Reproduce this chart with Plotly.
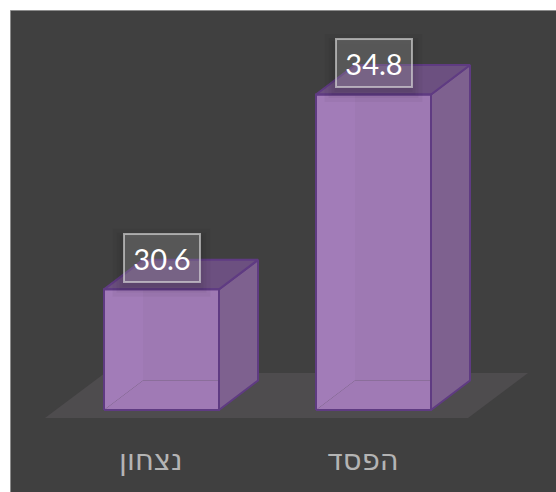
import plotly.graph_objects as go

categories = ["נצחון", "הפסד"]
values = [30.6, 34.8]
value_labels = ["30.6", "34.8"]

W, H = 556, 492
PX_PER_X = 212.0
PX_PER_Y = 46.4
BASE = 28.0
AXIS_PX = 440
X_ZERO_PX = 161.5
BASE_PX = 410
BAR_W = 115 / PX_PER_X
DX = 39 / PX_PER_X
DY = 29.5 / PX_PER_Y

x_range = [-X_ZERO_PX / PX_PER_X, (W - X_ZERO_PX) / PX_PER_X]
y_low = BASE - (AXIS_PX - BASE_PX) / PX_PER_Y
y_high = y_low + AXIS_PX / PX_PER_Y

EDGE = "#5F3B82"
xs = list(range(len(values)))


def poly(px, py, fill, line=None, lw=0):
    return go.Scatter(x=px, y=py, mode="lines", fill="toself", fillcolor=fill,
                      line=dict(color=line or "rgba(0,0,0,0)", width=lw),
                      hoverinfo="skip", showlegend=False)


fig = go.Figure()

# floor
fx0 = (45 - X_ZERO_PX) / PX_PER_X
fx1 = (468 - X_ZERO_PX) / PX_PER_X
fdx = 60 / PX_PER_X
fy0 = BASE - 8 / PX_PER_Y
fy1 = BASE + 37 / PX_PER_Y
fig.add_trace(poly([fx0, fx1, fx1 + fdx, fx0 + fdx, fx0], [fy0, fy0, fy1, fy1, fy0], "#4E4C4E"))

for i, v in zip(xs, values):
    l, r = i - BAR_W / 2, i + BAR_W / 2
    # rear faces seen through the translucent front
    fig.add_trace(poly([l, l + DX, l + DX, l, l], [BASE, BASE + DY, v + DY, v, BASE], "#A27CB8"))
    fig.add_trace(poly([l + DX, r + DX, r + DX, l + DX, l + DX],
                       [BASE + DY, BASE + DY, v + DY, v + DY, BASE + DY], "#9E79B3"))
    fig.add_trace(poly([l, r, r + DX, l + DX, l], [BASE, BASE, BASE + DY, BASE + DY, BASE], "#A07AB5"))
    # right side and top
    fig.add_trace(poly([r, r + DX, r + DX, r, r], [BASE, BASE + DY, v + DY, v, BASE], "#7E618F", EDGE, 2))
    fig.add_trace(poly([l, r, r + DX, l + DX, l], [v, v, v + DY, v + DY, v], "#6C5080", EDGE, 2))

fig.add_trace(go.Bar(
    x=xs, y=[v - BASE for v in values], base=BASE, width=BAR_W,
    marker=dict(color="rgba(160,122,182,0.55)", line=dict(width=0)),
    hoverinfo="skip", showlegend=False,
))

# front-face outline
for i, v in zip(xs, values):
    l, r = i - BAR_W / 2, i + BAR_W / 2
    fig.add_trace(go.Scatter(x=[l, r, r, l, l], y=[BASE, BASE, v, v, BASE], mode="lines",
                             line=dict(color=EDGE, width=2), hoverinfo="skip", showlegend=False))

annotations = [
    dict(x=i, y=v, xref="x", yref="y", text=t, showarrow=False, yshift=31.5,
         xanchor="center", yanchor="middle", width=74, height=46, align="center",
         valign="middle", bgcolor="rgba(255,255,255,0.17)",
         bordercolor="rgba(225,225,225,0.62)", borderwidth=2, borderpad=0,
         font=dict(family="Lato, 'Open Sans', sans-serif", size=29, color="#FFFFFF"))
    for i, v, t in zip(xs, values, value_labels)
]

# soft shadow behind each value box
shadows = [
    dict(type="rect", xref="x", yref="y", xsizemode="pixel", ysizemode="pixel",
         xanchor=i, yanchor=v, x0=-37 - k, x1=37 + k, y0=4.5 - k, y1=54.5 + k - 6,
         fillcolor="rgba(0,0,0,0.035)", line=dict(width=0), layer="above")
    for i, v in zip(xs, values) for k in (2, 5, 8, 12)
]

frame = dict(type="rect", xref="paper", yref="paper", layer="below",
             x0=10.5 / W, x1=1.01, y0=-0.01, y1=1 - 10.5 / H,
             fillcolor="#404040", line=dict(color="#8C8C8C", width=1))

fig.update_layout(
    width=W, height=H,
    margin=dict(l=0, r=0, t=0, b=0),
    paper_bgcolor="#FFFFFF", plot_bgcolor="rgba(0,0,0,0)",
    bargap=0, showlegend=False,
    annotations=annotations,
    shapes=[frame] + shadows,
    xaxis=dict(range=x_range, tickvals=[i - 0.05 for i in xs], ticktext=categories,
               showgrid=False, zeroline=False, showline=False, ticks="", fixedrange=True,
               tickfont=dict(family="'DejaVu Sans', sans-serif", size=29, color="#B4B4B4")),
    yaxis=dict(range=[y_low, y_high], domain=[(H - AXIS_PX) / H, 1], visible=False, fixedrange=True),
)

fig.write_html("out.html", config={"displayModeBar": False},
               post_script="document.body.style.margin='0';document.documentElement.style.overflow='hidden';")
